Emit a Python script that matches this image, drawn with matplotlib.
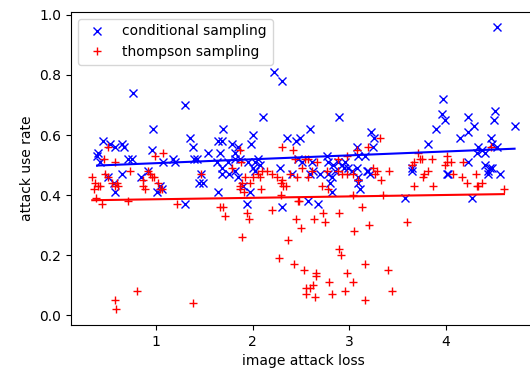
import numpy as np
import matplotlib
matplotlib.use("Agg")
import matplotlib.pyplot as plt

# conditional sampling (image attack loss, attack use rate)
cond_x = [4.53, 2.22, 2.30, 0.76, 1.30, 2.89, 3.97, 3.96, 3.99, 3.90, 4.23, 4.29, 4.51, 4.50, 4.71,
          4.15, 4.23, 4.47, 3.81, 4.33, 4.37, 4.32, 4.40, 4.48, 4.53, 4.23, 3.65, 4.02, 4.40, 4.46,
          4.44, 4.48, 4.43, 4.56, 4.27, 3.58, 2.59, 2.49, 3.22, 3.26, 3.24, 3.08, 3.09, 3.16, 2.47,
          2.51, 2.61, 2.77, 2.78, 2.83, 2.88, 2.92, 2.96, 2.94, 2.99, 2.85, 3.03, 3.08, 2.62, 2.59,
          2.70, 2.78, 2.82, 3.18, 3.21, 3.09, 3.09, 2.80, 2.82, 3.11, 2.57, 2.68, 2.11, 1.35, 1.38,
          1.69, 1.64, 1.68, 1.79, 2.00, 1.98, 2.36, 2.45, 1.54, 1.66, 1.82, 1.85, 1.42, 1.39, 1.63,
          1.68, 1.74, 1.82, 1.87, 1.95, 2.02, 2.06, 2.08, 2.00, 1.68, 1.75, 1.82, 2.02, 2.28, 1.46,
          1.49, 1.44, 1.85, 1.90, 1.97, 1.64, 1.94, 2.30, 2.41, 0.97, 0.45, 0.65, 0.67, 0.57, 0.40,
          0.39, 0.96, 0.75, 0.71, 0.42, 1.18, 1.20, 1.07, 0.65, 0.50, 0.56, 0.57, 0.92, 0.84, 1.04,
          1.06, 1.01, 1.30, 0.52, 4.01, 3.65, 3.19]
cond_y = [0.96, 0.81, 0.78, 0.74, 0.70, 0.66, 0.72, 0.67, 0.65, 0.62, 0.66, 0.63, 0.68, 0.65, 0.63,
          0.59, 0.61, 0.59, 0.57, 0.56, 0.55, 0.54, 0.54, 0.57, 0.56, 0.51, 0.49, 0.47, 0.50, 0.49,
          0.48, 0.49, 0.47, 0.47, 0.39, 0.39, 0.62, 0.59, 0.61, 0.59, 0.56, 0.56, 0.53, 0.53, 0.52,
          0.51, 0.51, 0.53, 0.51, 0.50, 0.51, 0.50, 0.51, 0.49, 0.49, 0.48, 0.48, 0.49, 0.48, 0.47,
          0.47, 0.47, 0.46, 0.48, 0.47, 0.46, 0.44, 0.44, 0.41, 0.42, 0.38, 0.37, 0.66, 0.59, 0.56,
          0.62, 0.58, 0.58, 0.57, 0.60, 0.57, 0.59, 0.58, 0.54, 0.54, 0.54, 0.56, 0.52, 0.52, 0.51,
          0.49, 0.51, 0.52, 0.52, 0.51, 0.51, 0.52, 0.50, 0.49, 0.47, 0.47, 0.48, 0.48, 0.49, 0.47,
          0.44, 0.44, 0.46, 0.43, 0.41, 0.41, 0.37, 0.36, 0.47, 0.62, 0.58, 0.57, 0.56, 0.56, 0.54,
          0.53, 0.55, 0.52, 0.52, 0.51, 0.52, 0.51, 0.51, 0.47, 0.46, 0.44, 0.41, 0.48, 0.46, 0.43,
          0.42, 0.41, 0.37, 0.57, 0.47, 0.48, 0.48]

# thompson sampling
thom_x = [0.80, 0.57, 0.59, 1.38, 1.71, 1.94, 1.96, 2.20, 2.45, 2.50, 1.89, 2.37, 2.27, 2.43, 2.53,
          2.73, 2.89, 3.13, 2.63, 2.75, 3.20, 3.05, 3.60, 2.89, 2.91, 3.16, 2.66, 2.66, 2.98, 3.40,
          2.79, 3.04, 2.55, 2.59, 2.62, 2.55, 2.82, 2.96, 3.44, 2.64, 3.16, 1.69, 1.87, 1.87, 1.97,
          2.09, 2.29, 2.48, 2.29, 2.34, 2.00, 2.08, 2.10, 3.04, 3.35, 3.67, 3.87, 4.32, 4.60, 2.92,
          2.98, 3.04, 3.09, 3.33, 3.29, 3.41, 3.81, 3.76, 4.07, 4.17, 4.22, 4.31, 4.37, 4.33, 3.71,
          3.73, 3.75, 3.86, 4.01, 4.01, 3.99, 4.05, 4.18, 3.65, 3.67, 3.77, 4.47, 3.32, 3.19, 3.08,
          2.54, 2.57, 2.88, 2.98, 2.44, 2.67, 2.51, 2.61, 2.46, 2.57, 2.77, 2.88, 3.25, 3.27, 2.72,
          2.78, 2.47, 2.30, 2.42, 1.87, 1.88, 1.79, 1.46, 1.92, 2.05, 2.15, 2.20, 2.25, 2.30, 2.31,
          2.39, 1.89, 1.91, 0.50, 0.99, 1.07, 0.46, 0.58, 0.73, 0.47, 0.50, 0.34, 0.37, 0.40, 0.36,
          0.38, 0.60, 0.54, 0.61, 0.92, 0.96, 0.98, 0.86, 0.87, 0.89, 1.02, 1.06, 0.44, 0.71, 1.22,
          0.42, 0.58, 0.94, 1.04, 1.66]
thom_y = [0.08, 0.05, 0.02, 0.04, 0.33, 0.34, 0.32, 0.35, 0.32, 0.29, 0.26, 0.25, 0.19, 0.17, 0.15,
          0.34, 0.34, 0.36, 0.32, 0.31, 0.30, 0.28, 0.31, 0.22, 0.20, 0.17, 0.14, 0.13, 0.14, 0.15,
          0.11, 0.11, 0.09, 0.09, 0.10, 0.07, 0.07, 0.08, 0.08, 0.06, 0.05, 0.36, 0.43, 0.42, 0.44,
          0.42, 0.40, 0.38, 0.44, 0.43, 0.46, 0.46, 0.48, 0.40, 0.40, 0.43, 0.43, 0.43, 0.42, 0.47,
          0.47, 0.47, 0.45, 0.45, 0.48, 0.48, 0.48, 0.46, 0.47, 0.46, 0.44, 0.47, 0.44, 0.43, 0.54,
          0.52, 0.52, 0.52, 0.53, 0.51, 0.50, 0.51, 0.51, 0.50, 0.51, 0.47, 0.56, 0.59, 0.56, 0.55,
          0.52, 0.52, 0.52, 0.53, 0.52, 0.51, 0.49, 0.48, 0.46, 0.46, 0.48, 0.48, 0.49, 0.47, 0.43,
          0.42, 0.38, 0.56, 0.55, 0.55, 0.51, 0.49, 0.47, 0.46, 0.47, 0.48, 0.47, 0.46, 0.45, 0.43,
          0.47, 0.44, 0.41, 0.56, 0.53, 0.54, 0.52, 0.51, 0.48, 0.47, 0.46, 0.46, 0.44, 0.43, 0.42,
          0.39, 0.44, 0.44, 0.43, 0.48, 0.46, 0.46, 0.45, 0.43, 0.42, 0.44, 0.42, 0.37, 0.38, 0.37,
          0.43, 0.43, 0.47, 0.42, 0.36]


def fit_line(x, y):
    x = np.asarray(x)
    k, b = np.polyfit(x, y, 1)
    xs = np.array([x.min(), x.max()])
    return xs, k * xs + b


fig = plt.figure(figsize=(5.3, 3.72), dpi=100)
ax = fig.add_axes([0.134, 0.126, 0.877, 0.842])

ax.plot(cond_x, cond_y, 'bx', label='conditional sampling')
ax.plot(thom_x, thom_y, 'r+', label='thompson sampling')

fx, fy = fit_line(cond_x, cond_y)
ax.plot(fx, fy, 'b-')
fx, fy = fit_line(thom_x, thom_y)
ax.plot(fx, fy, 'r-')

ax.set_xlim(0.12, 4.93)
ax.set_ylim(-0.033, 1.01)
ax.set_xticks([1, 2, 3, 4])
ax.set_xlabel('image attack loss')
ax.set_ylabel('attack use rate')
ax.legend(loc='upper left')

fig.savefig('out.png', dpi=100)
